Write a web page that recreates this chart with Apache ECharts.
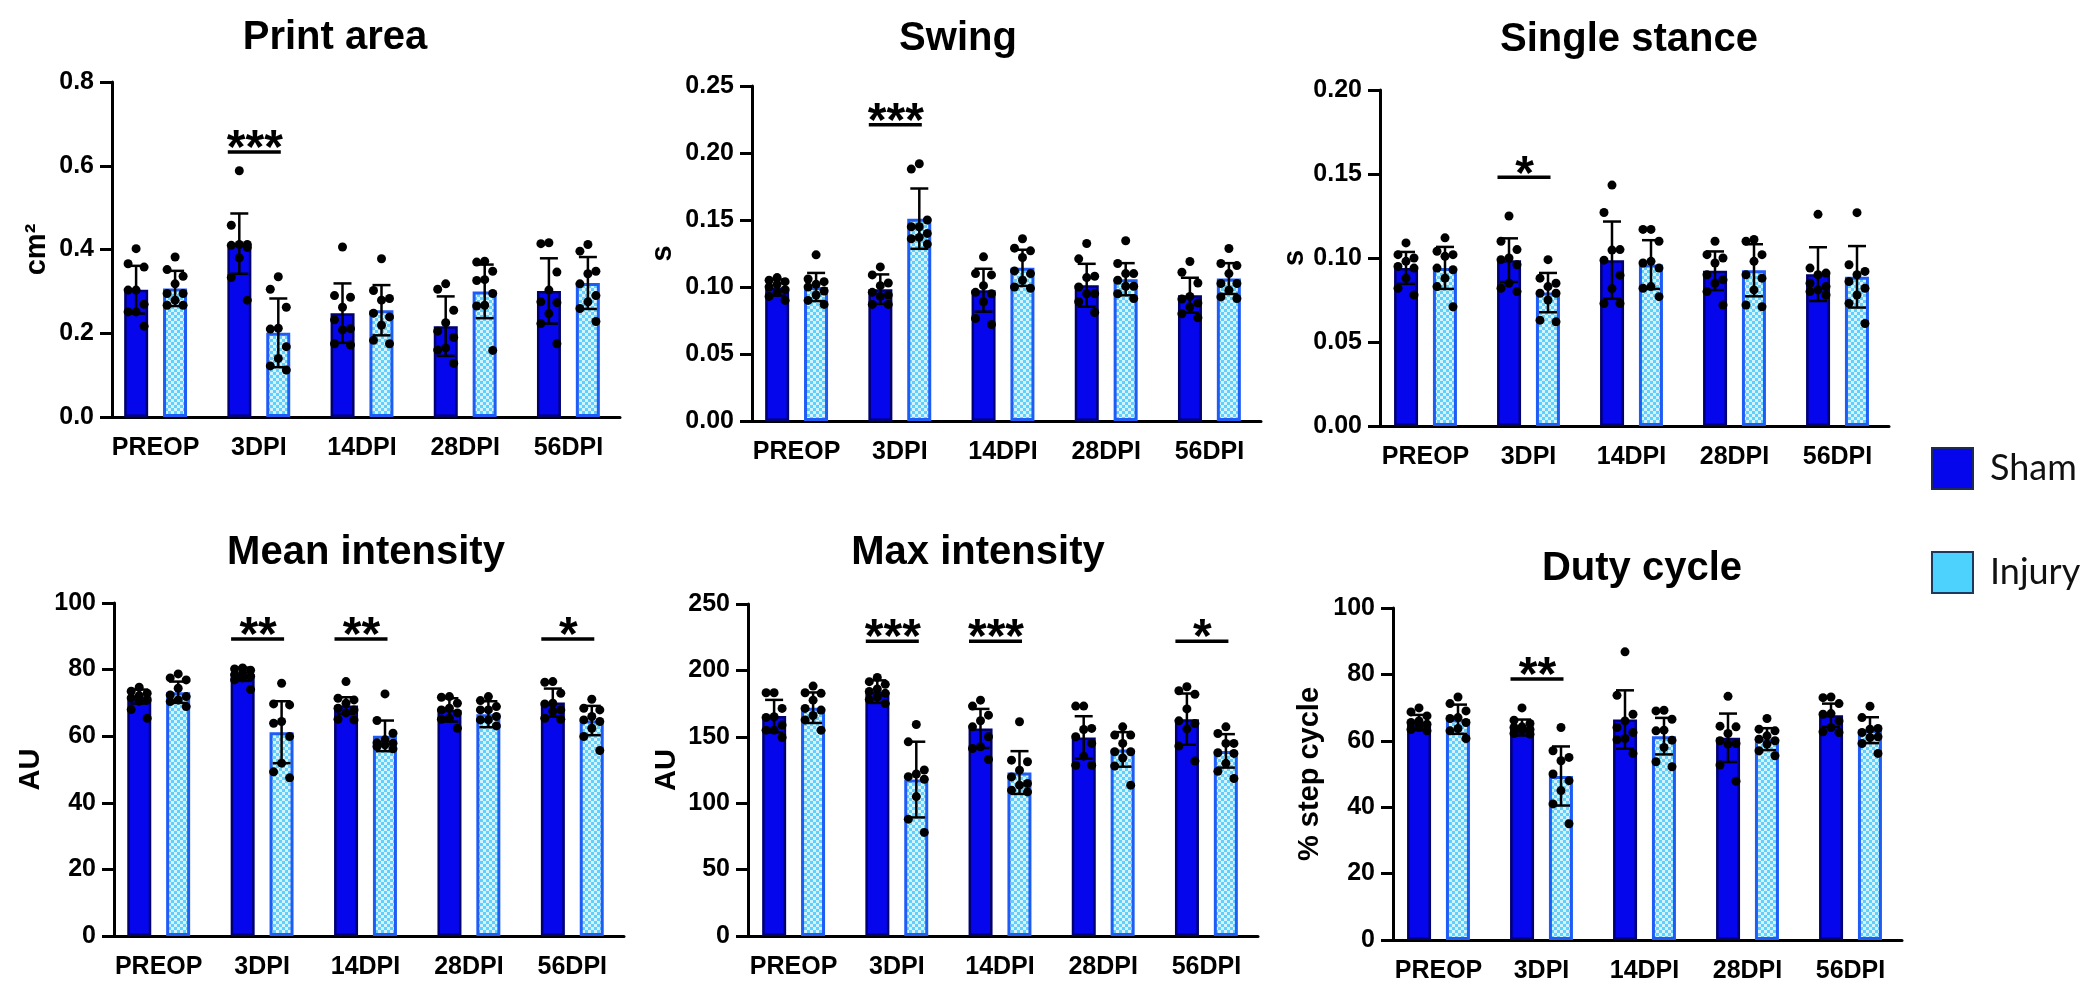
<!DOCTYPE html>
<html><head><meta charset="utf-8">
<script src="https://cdn.jsdelivr.net/npm/echarts@6/dist/echarts.min.js"></script>
<style>html,body{margin:0;padding:0;background:#fff}#c{width:2100px;height:1008px}</style>
</head><body><div id="c"></div>
<script>
const categories = ['PREOP','3DPI','14DPI','28DPI','56DPI'];

// Print area (cm²)
const printShamMean = [0.304, 0.414, 0.248, 0.217, 0.301];
const printShamSD   = [0.057, 0.072, 0.071, 0.071, 0.078];
const printInjMean  = [0.307, 0.201, 0.255, 0.300, 0.320];
const printInjSD    = [0.042, 0.082, 0.060, 0.064, 0.062];
const printShamPts = [
 [0.402,0.366,0.358,0.303,0.303,0.269,0.251,0.251,0.217],
 [0.588,0.458,0.412,0.412,0.410,0.405,0.380,0.333,0.279],
 [0.406,0.290,0.286,0.262,0.232,0.211,0.208,0.175,0.172],
 [0.318,0.305,0.255,0.225,0.205,0.190,0.165,0.160,0.128],
 [0.416,0.414,0.346,0.303,0.275,0.273,0.247,0.223,0.175]];
const printInjPts = [
 [0.382,0.352,0.336,0.318,0.295,0.295,0.279,0.267,0.267],
 [0.335,0.305,0.262,0.212,0.210,0.168,0.140,0.122,0.112],
 [0.378,0.302,0.283,0.279,0.248,0.239,0.219,0.183,0.175],
 [0.372,0.370,0.348,0.328,0.326,0.295,0.267,0.265,0.159],
 [0.412,0.396,0.348,0.342,0.318,0.290,0.275,0.259,0.228]];
const printSig = [[1,'***']];

// Swing (s)
const swingShamMean = [0.0996, 0.0984, 0.0976, 0.1013, 0.0939];
const swingShamSD   = [0.006, 0.011, 0.016, 0.016, 0.013];
const swingInjMean  = [0.100, 0.151, 0.1143, 0.1058, 0.1063];
const swingInjSD    = [0.0105, 0.0225, 0.0135, 0.012, 0.0115];
const swingShamPts = [
 [0.107,0.105,0.104,0.102,0.100,0.098,0.096,0.093,0.090],
 [0.115,0.109,0.103,0.101,0.096,0.094,0.093,0.087,0.087],
 [0.1225,0.110,0.109,0.101,0.096,0.095,0.089,0.0765,0.072],
 [0.1325,0.121,0.108,0.107,0.100,0.095,0.095,0.089,0.081],
 [0.119,0.111,0.103,0.093,0.091,0.088,0.085,0.080,0.077]];
const swingInjPts = [
 [0.124,0.106,0.104,0.102,0.100,0.097,0.094,0.090,0.087],
 [0.192,0.188,0.150,0.145,0.145,0.140,0.137,0.136,0.132],
 [0.136,0.129,0.127,0.122,0.112,0.110,0.105,0.100,0.099],
 [0.1345,0.1175,0.110,0.110,0.105,0.1006,0.1006,0.095,0.0914],
 [0.1287,0.1175,0.116,0.110,0.1026,0.1026,0.0976,0.0926,0.0914]];
const swingSig = [[1,'***']];

// Single stance (s)
const singleShamMean = [0.0941, 0.0987, 0.0987, 0.0924, 0.0904];
const singleShamSD   = [0.0095, 0.013, 0.023, 0.0115, 0.016];
const singleInjMean  = [0.0941, 0.0794, 0.0961, 0.0927, 0.0888];
const singleInjSD    = [0.0125, 0.0117, 0.0145, 0.0155, 0.0183];
const singleShamPts = [
 [0.109,0.102,0.100,0.098,0.095,0.094,0.088,0.082,0.078],
 [0.125,0.110,0.105,0.100,0.099,0.096,0.085,0.082,0.080],
 [0.1434,0.1271,0.105,0.1047,0.0987,0.0898,0.0818,0.0729,0.0729],
 [0.110,0.102,0.100,0.097,0.090,0.087,0.085,0.080,0.072],
 [0.126,0.094,0.091,0.090,0.085,0.083,0.081,0.080,0.078]];
const singleInjPts = [
 [0.112,0.104,0.102,0.101,0.094,0.093,0.088,0.083,0.071],
 [0.099,0.088,0.085,0.083,0.079,0.079,0.075,0.063,0.062],
 [0.117,0.117,0.110,0.098,0.097,0.094,0.083,0.082,0.077],
 [0.111,0.110,0.102,0.098,0.090,0.088,0.081,0.072,0.071],
 [0.127,0.096,0.092,0.090,0.086,0.082,0.078,0.073,0.061]];
const singleSig = [[1,'*']];

// Mean intensity (AU)
const meanShamMean = [71.9, 78.6, 69.2, 67.9, 70.1];
const meanShamSD   = [2.1, 2.0, 2.5, 3.5, 4.2];
const meanInjMean  = [73.2, 61.2, 60.1, 66.6, 64.7];
const meanInjSD    = [3.2, 9.3, 4.6, 3.9, 4.4];
const meanShamPts = [
 [74.7,73.5,72.9,72.2,71.5,70.9,70.5,68.0,65.4],
 [80.5,80.2,79.8,79.0,78.5,78.0,77.5,76.9,74.0],
 [76.4,71.4,70.9,69.9,68.4,67.9,67.0,65.1,64.9],
 [71.9,71.7,69.9,68.4,67.9,67.0,65.4,65.1,62.4],
 [76.4,76.2,72.9,69.9,69.7,67.9,67.5,65.4,65.1]];
const meanInjPts = [
 [78.7,77.5,76.9,74.4,72.4,71.9,70.9,70.4,68.9],
 [75.9,69.7,69.4,64.4,63.9,59.9,51.9,49.3,47.5],
 [72.7,64.7,60.9,58.9,58.0,57.9,57.4,56.9,56.2],
 [71.9,70.7,68.9,67.9,67.9,65.9,64.9,64.9,63.1],
 [71.1,68.4,67.9,65.9,64.9,64.4,62.4,59.9,55.7]];
const meanSig = [[1,'**'],[2,'**'],[4,'*']];

// Max intensity (AU)
const maxShamMean = [165.6, 184.0, 156.3, 149.5, 163.3];
const maxShamSD   = [12.2, 8.5, 14.7, 16.0, 19.3];
const maxInjMean  = [171.9, 117.8, 123.1, 140.5, 139.4];
const maxInjSD    = [11.5, 28.5, 16.1, 13.0, 12.6];
const maxShamPts = [
 [183.2,183.2,171.4,165.1,164.6,158.8,155.0,155.0,149.5],
 [194.7,191.5,189.5,186.0,184.2,182.7,180.0,178.0,175.0],
 [177.6,173.1,166.3,162.1,157.5,150.0,142.5,141.2,132.9],
 [173.1,173.1,156.3,155.5,150.0,145.0,135.4,128.6,128.6],
 [187.7,184.7,182.0,171.0,162.0,160.0,156.0,143.0,131.7]];
const maxInjPts = [
 [188.2,183.2,182.7,177.6,171.4,170.1,166.0,162.7,155.0],
 [159.3,146.2,125.0,122.0,120.0,118.0,105.0,88.0,78.0],
 [161.3,132.4,131.2,124.9,119.8,114.8,113.6,109.8,108.5],
 [157.5,151.3,151.3,145.0,138.7,138.7,134.0,128.0,113.6],
 [157.5,152.5,145.0,145.0,138.0,137.5,130.0,124.0,118.6]];
const maxSig = [[1,'***'],[2,'***'],[4,'*']];

// Duty cycle (% step cycle)
const dutyShamMean = [65.5, 64.0, 66.4, 60.9, 67.7];
const dutyShamSD   = [2.3, 2.4, 8.8, 7.3, 3.5];
const dutyInjMean  = [66.5, 49.4, 61.4, 60.5, 63.2];
const dutyInjSD    = [4.4, 8.9, 5.5, 3.3, 3.9];
const dutyShamPts = [
 [69.9,68.7,67.5,66.0,65.5,65.0,64.0,63.4,63.0],
 [69.9,66.2,65.2,64.2,64.0,63.4,63.2,62.2,62.0],
 [86.8,73.7,68.0,66.0,64.0,62.5,60.7,60.3,56.2],
 [73.4,64.4,64.2,62.2,60.0,59.2,59.0,52.7,47.8],
 [73.2,73.0,71.2,68.2,68.0,66.0,64.0,62.7,62.5]];
const dutyInjPts = [
 [73.2,71.2,69.0,67.0,66.7,65.5,63.7,63.0,60.7],
 [64.0,57.0,55.0,54.0,50.0,48.0,45.0,41.0,35.0],
 [69.2,69.0,66.5,63.2,63.0,60.2,58.0,53.7,52.2],
 [66.7,63.5,63.0,61.5,60.5,60.0,59.0,57.0,55.5],
 [70.4,67.0,63.7,63.5,62.5,61.2,61.0,59.2,56.2]];
const dutySig = [[1,'**']];

// ---------- layout & style ----------
const FONT = '"Liberation Sans", Arial, sans-serif';
const OFF = 19.5;          // half distance between paired bar centres (px)
const CAP = 9;             // error-bar cap half width (px)
const JIT = [0, -8, 8];    // dot spread pattern (px)

const panels = [
 {title:'Print area', tx:335, ty:38, grid:{left:104, top:82, width:516, height:335}, yOff:-8,
  max:0.8, interval:0.2, dec:1, name:'cm²', nameGap:61,
  sham:[printShamMean, printShamSD, printShamPts], inj:[printInjMean, printInjSD, printInjPts], sig:printSig, sigY:0.633},
 {title:'Swing', tx:958, ty:39, grid:{left:745, top:86, width:516, height:335}, yOff:-7,
  max:0.25, interval:0.05, dec:2, name:'s', nameGap:75,
  sham:[swingShamMean, swingShamSD, swingShamPts], inj:[swingInjMean, swingInjSD, swingInjPts], sig:swingSig, sigY:0.221},
 {title:'Single stance', tx:1629, ty:40, grid:{left:1374, top:90, width:515, height:336}, yOff:-6,
  max:0.20, interval:0.05, dec:2, name:'s', nameGap:71,
  sham:[singleShamMean, singleShamSD, singleShamPts], inj:[singleInjMean, singleInjSD, singleInjPts], sig:singleSig, sigY:0.148},
 {title:'Mean intensity', tx:366, ty:553, grid:{left:107, top:603, width:517, height:333}, yOff:-7,
  max:100, interval:20, dec:0, name:'AU', nameGap:69,
  sham:[meanShamMean, meanShamSD, meanShamPts], inj:[meanInjMean, meanInjSD, meanInjPts], sig:meanSig, sigY:89.2},
 {title:'Max intensity', tx:978, ty:553, grid:{left:742, top:604, width:516, height:332}, yOff:-6,
  max:250, interval:50, dec:0, name:'AU', nameGap:67,
  sham:[maxShamMean, maxShamSD, maxShamPts], inj:[maxInjMean, maxInjSD, maxInjPts], sig:maxSig, sigY:222},
 {title:'Duty cycle', tx:1642, ty:569, grid:{left:1387, top:608, width:515, height:332}, yOff:-6,
  max:100, interval:20, dec:0, name:'% step cycle', nameGap:69,
  sham:[dutyShamMean, dutyShamSD, dutyShamPts], inj:[dutyInjMean, dutyInjSD, dutyInjPts], sig:dutySig, sigY:78.6}
];

// checker pattern for Injury bars
function makePattern(){
  const c = document.createElement('canvas'); c.width = 6; c.height = 6;
  const g = c.getContext('2d');
  g.fillStyle = '#5fd0fb'; g.fillRect(0,0,6,6);
  g.fillStyle = '#d2f3ff'; g.fillRect(0,0,3,3); g.fillRect(3,3,3,3);
  return c;
}
const injPattern = {image: makePattern(), repeat: 'repeat'};
const SHAM_FILL = '#0606ec', SHAM_BORDER = '#00006e';
const INJ_BORDER = '#1f5cf6';

const grids = [], xAxes = [], yAxes = [], titles = [], series = [];
panels.forEach((p, i) => {
  grids.push(Object.assign({containLabel:false}, p.grid));
  titles.push({text:p.title, left:p.tx, top:p.ty, textAlign:'center', textVerticalAlign:'middle', padding:0,
    textStyle:{fontFamily:FONT, fontSize:40, fontWeight:'bold', color:'#000'}});
  xAxes.push({type:'category', gridIndex:i, data:categories,
    axisLine:{lineStyle:{color:'#000', width:3}},
    axisTick:{alignWithLabel:true, length:12, lineStyle:{color:'#000', width:3}},
    axisLabel:{interval:0, color:'#000', fontFamily:FONT, fontSize:25, fontWeight:'bold', margin:19}});
  yAxes.push({type:'value', gridIndex:i, min:0, max:p.max, interval:p.interval, offset:p.yOff,
    axisLine:{show:true, lineStyle:{color:'#000', width:3}},
    axisTick:{show:true, length:12, lineStyle:{color:'#000', width:3}},
    splitLine:{show:false},
    axisLabel:{color:'#000', fontFamily:FONT, fontSize:25, fontWeight:'bold', margin:18,
      formatter: v => v.toFixed(p.dec)},
    name:p.name, nameLocation:'middle', nameRotate:90, nameGap:p.nameGap,
    nameTextStyle:{color:'#000', fontFamily:FONT, fontSize:29, fontWeight:'bold'}});

  series.push({type:'bar', name:'Sham', xAxisIndex:i, yAxisIndex:i, data:p.sham[0], barWidth:24, barGap:'62%',
    itemStyle:{color:SHAM_FILL, borderColor:SHAM_BORDER, borderWidth:2.5}, z:2});
  series.push({type:'bar', name:'Injury', xAxisIndex:i, yAxisIndex:i, data:p.inj[0], barWidth:24, barGap:'62%',
    itemStyle:{color:injPattern, borderColor:INJ_BORDER, borderWidth:3}, z:2});

  [p.sham, p.inj].forEach((grp, gi) => {
    const dx = gi ? OFF : -OFF;
    series.push({type:'custom', xAxisIndex:i, yAxisIndex:i, z:4, silent:true,
      data: grp[0].map((m, k) => [k, m - grp[1][k], m + grp[1][k]]),
      encode:{x:0, y:[1,2]},
      renderItem(params, api){
        const lo = api.coord([api.value(0), api.value(1)]);
        const hi = api.coord([api.value(0), api.value(2)]);
        const x = lo[0] + dx;
        const st = {stroke:'#000', lineWidth:2.5};
        return {type:'group', children:[
          {type:'line', shape:{x1:x, y1:lo[1], x2:x, y2:hi[1]}, style:st},
          {type:'line', shape:{x1:x-CAP, y1:hi[1], x2:x+CAP, y2:hi[1]}, style:st},
          {type:'line', shape:{x1:x-CAP, y1:lo[1], x2:x+CAP, y2:lo[1]}, style:st}
        ]};
      }});
    const pts = [];
    grp[2].forEach((arr, ci) => arr.forEach((v, k) => pts.push({value:[ci, v], symbolOffset:[dx + JIT[k % 3], 0]})));
    series.push({type:'scatter', xAxisIndex:i, yAxisIndex:i, z:5, silent:true, symbol:'circle', symbolSize:9,
      itemStyle:{color:'#000', opacity:1}, data:pts});
  });

  series.push({type:'custom', xAxisIndex:i, yAxisIndex:i, z:6, silent:true,
    data: p.sig.map(s => [s[0], p.sigY]),
    renderItem(params, api){
      const c = api.coord([api.value(0), api.value(1)]);
      const label = p.sig[params.dataIndex][1];
      return {type:'group', children:[
        {type:'line', shape:{x1:c[0]-31, y1:c[1], x2:c[0]+22, y2:c[1]}, style:{stroke:'#000', lineWidth:3.5}},
        {type:'text', x:c[0]-4, y:c[1]-2, style:{text:label, fontFamily:FONT, fontSize:48, fontWeight:'bold',
          fill:'#000', align:'center', verticalAlign:'middle'}}
      ]};
    }});
});

const chart = echarts.init(document.getElementById('c'), null, {renderer:'canvas'});
chart.setOption({
  animation:false,
  backgroundColor:'#fff',
  textStyle:{fontFamily:FONT},
  title:titles,
  grid:grids, xAxis:xAxes, yAxis:yAxes, series:series,
  legend:{orient:'vertical', left:1931, top:447, padding:0, itemWidth:41, itemHeight:41, itemGap:61,
    selectedMode:false, icon:'rect',
    textStyle:{fontFamily:'Lato, "Open Sans", sans-serif', fontSize:36, color:'#111', padding:[0,0,0,12]},
    data:[
      {name:'Sham', itemStyle:{color:'#0606ec', borderColor:'#1d2a55', borderWidth:2}},
      {name:'Injury', itemStyle:{color:'#4dd2fd', borderColor:'#1d3a5e', borderWidth:2}}
    ]}
});
</script></body></html>
